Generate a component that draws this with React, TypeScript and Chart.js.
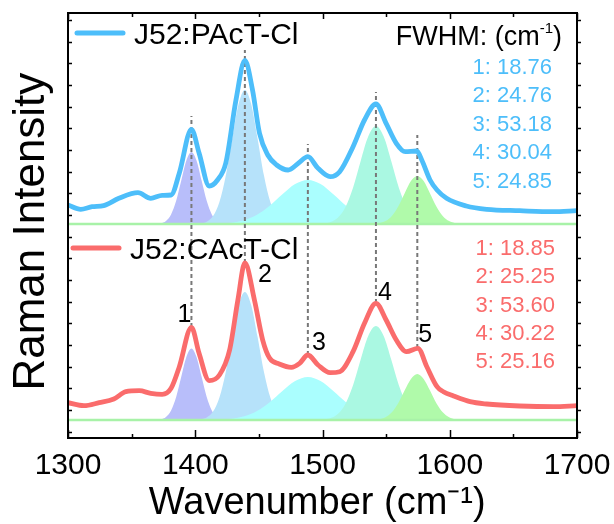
import React, { useEffect, useRef } from 'react';
import { Chart, registerables } from 'chart.js';

Chart.register(...registerables);

const FONT = '"Liberation Sans", Arial, Helvetica, sans-serif';
const BLUE = 'rgb(77,190,250)';
const RED = 'rgb(250,108,108)';
const BASE_GREEN = 'rgb(168,242,168)';
const FIT_COLORS = ['rgb(184,190,250)', 'rgb(182,226,250)', 'rgb(170,254,254)', 'rgb(170,248,226)', 'rgb(176,250,170)'];

// axis
const xMin = 1300;
const xMax = 1700;
const xStep = 100;
const yMin = 0;
const yMax = 425;

// series labels
const upperLabel = 'J52:PAcT-Cl';
const lowerLabel = 'J52:CAcT-Cl';

// stacking offsets of the two spectra (intensity units)
const upperOffset = 214;
const lowerOffset = 18;

// measured spectra (relative to own baseline)
const upperWavenumber = [1300, 1310, 1319, 1328, 1340, 1355, 1365, 1374, 1381, 1387.5, 1397, 1403, 1411, 1417.5, 1424, 1432, 1439, 1445, 1450.5, 1457, 1464, 1473, 1481, 1488.5, 1496.5, 1506, 1513.5, 1524, 1533, 1542, 1550, 1558, 1565, 1574, 1578, 1584.5, 1590, 1597.5, 1613, 1629, 1655, 1681, 1700];
const upperIntensity = [19, 14.7, 17.3, 18.3, 25.7, 31.3, 25.7, 28.7, 29, 51, 94.7, 71, 38, 44, 61, 124, 163.5, 134, 90.7, 69, 59, 54, 60.7, 67.3, 55.7, 47.3, 52.3, 77.3, 104, 120, 100.7, 80.7, 72.3, 73, 64, 44, 34, 25.7, 18, 14.7, 13.3, 12.3, 13.3];

const lowerWavenumber = [1300, 1312.5, 1324.5, 1336, 1345.5, 1356, 1365, 1374, 1381, 1387.5, 1397, 1403, 1411, 1419, 1427, 1433.5, 1439, 1446.5, 1453, 1458.5, 1466, 1475.5, 1482, 1488.5, 1496.5, 1506, 1513.5, 1524, 1533, 1542, 1550, 1558, 1566, 1575, 1582, 1590, 1595, 1603, 1616, 1629, 1655, 1681.5, 1700];
const lowerIntensity = [17.3, 14.3, 17.3, 21, 28.3, 29.3, 26.7, 25.7, 31.7, 53.3, 92.7, 66.7, 39.3, 45, 70, 120, 157, 120, 80, 61.7, 56, 52.7, 56.7, 65, 55, 47.3, 48.3, 68.3, 96.7, 116.7, 100, 80, 68.3, 71.7, 53.3, 33.3, 28.3, 24, 18.3, 16, 14, 13.3, 14.3];

// fitted peaks
const fit1X = [1369, 1373, 1377, 1381, 1385, 1389, 1393, 1397, 1401, 1405, 1409, 1413, 1417, 1421, 1425];
const upperFit1 = [0.2, 0.8, 3.1, 9.6, 23.2, 43.5, 63.5, 72, 63.5, 43.5, 23.2, 9.6, 3.1, 0.8, 0.2];
const lowerFit1 = [0.1, 0.8, 3.1, 9.5, 23.0, 43.2, 63.0, 71.5, 63.0, 43.2, 23.0, 9.5, 3.1, 0.8, 0.1];

const fit2X = [1404, 1409, 1414, 1419, 1424, 1429, 1434, 1439, 1444, 1449, 1454, 1459, 1464, 1469, 1474];
const upperFit2 = [0.5, 2.3, 7.9, 21.9, 48.4, 85.3, 119.7, 134, 119.7, 85.3, 48.4, 21.9, 7.9, 2.3, 0.5];
const lowerFit2 = [0.6, 2.6, 8.4, 22.5, 48.1, 82.9, 114.8, 128, 114.8, 82.9, 48.1, 22.5, 8.4, 2.6, 0.6];

const fit3X = [1408.5, 1418.5, 1428.5, 1438.5, 1448.5, 1458.5, 1468.5, 1478.5, 1488.5, 1498.5, 1508.5, 1518.5, 1528.5, 1538.5, 1548.5, 1558.5, 1568.5];
const upperFit3 = [0.1, 0.4, 1.3, 3.8, 9.2, 18.2, 29.7, 39.9, 44, 39.9, 29.7, 18.2, 9.2, 3.8, 1.3, 0.4, 0.1];
const lowerFit3 = [0.1, 0.4, 1.3, 3.7, 9.0, 17.8, 29.1, 39.0, 43, 39.0, 29.1, 17.8, 9.0, 3.7, 1.3, 0.4, 0.1];

const fit4X = [1500, 1506, 1512, 1518, 1524, 1530, 1536, 1542, 1548, 1554, 1560, 1566, 1572, 1578, 1584];
const upperFit4 = [0.4, 1.8, 6.2, 16.7, 36.2, 63.0, 87.7, 98, 87.7, 63.0, 36.2, 16.7, 6.2, 1.8, 0.4];
const lowerFit4 = [0.4, 1.7, 5.9, 16.0, 34.7, 60.4, 84.2, 94, 84.2, 60.4, 34.7, 16.0, 5.9, 1.7, 0.4];

const fit5X = [1539.5, 1544.5, 1549.5, 1554.5, 1559.5, 1564.5, 1569.5, 1574.5, 1579.5, 1584.5, 1589.5, 1594.5, 1599.5, 1604.5, 1609.5];
const upperFit5 = [0.2, 0.8, 2.9, 8.0, 17.5, 30.6, 42.9, 48, 42.9, 30.6, 17.5, 8.0, 2.9, 0.8, 0.2];
const lowerFit5 = [0.2, 0.8, 2.8, 7.7, 16.8, 29.4, 41.1, 46, 41.1, 29.4, 16.8, 7.7, 2.8, 0.8, 0.2];

// peak markers
const peakCenters = [1397, 1439, 1488.5, 1542, 1574.5];
const peakNames = ['1', '2', '3', '4', '5'];
const markerTopUpper = [108, 174, 80, 132, 89];
const lowerPeakTops = [93, 157, 65, 117, 72];

// FWHM annotations
const fwhmTitle = 'FWHM: (cm';
const fwhmUpper = ['18.76', '24.76', '53.18', '30.04', '24.85'];
const fwhmLower = ['18.85', '25.25', '53.60', '30.22', '25.16'];

// styles for peak number labels (px offsets)
const peakLabelOffsets = [[-7, -5], [20, 19], [11, -5], [9, -3], [8, -6]];

const pts = (xs: number[], ys: number[], off: number) => xs.map((x, i) => ({ x, y: ys[i] + off }));

const decorPlugin = {
  id: 'decor',
  afterDatasetsDraw(chart: any) {
    const { ctx, chartArea: a, scales } = chart;
    const x = scales.x;
    const y = scales.y;
    ctx.save();
    // frame
    ctx.strokeStyle = '#000';
    ctx.lineWidth = 2;
    ctx.strokeRect(a.left, a.top, a.right - a.left, a.bottom - a.top);
    ctx.lineWidth = 1.5;
    ctx.beginPath();
    for (let v = xMin; v <= xMax; v += xStep / 2) {
      const px = Math.round(x.getPixelForValue(v)) + 0.5;
      const major = (v - xMin) % xStep === 0;
      ctx.moveTo(px, a.bottom);
      ctx.lineTo(px, a.bottom - (major ? 8 : 4));
      ctx.moveTo(px, a.top);
      ctx.lineTo(px, a.top + (major ? 6 : 4));
    }
    for (let v = 6.3; v < yMax; v += 21.67) {
      const py = Math.round(y.getPixelForValue(v)) + 0.5;
      ctx.moveTo(a.left, py);
      ctx.lineTo(a.left + 4, py);
      ctx.moveTo(a.right, py);
      ctx.lineTo(a.right + 4, py);
    }
    ctx.stroke();

    // legends
    const drawLegend = (label: string, color: string, lx: number, ly: number) => {
      ctx.strokeStyle = color;
      ctx.lineWidth = 5;
      ctx.lineCap = 'round';
      ctx.beginPath();
      ctx.moveTo(lx, ly);
      ctx.lineTo(lx + 46, ly);
      ctx.stroke();
      ctx.fillStyle = '#000';
      ctx.font = `30px ${FONT}`;
      ctx.textAlign = 'left';
      ctx.textBaseline = 'alphabetic';
      ctx.fillText(label, lx + 57, ly + 10.5);
    };
    drawLegend(chart.data.datasets[0].label, BLUE, a.left + 9, a.top + 20);
    drawLegend(chart.data.datasets[1].label, RED, a.left + 5, a.top + 235);

    // FWHM header
    ctx.fillStyle = '#000';
    ctx.textAlign = 'right';
    ctx.textBaseline = 'alphabetic';
    const hx = a.right - 15;
    const hy = a.top + 32;
    ctx.font = `27px ${FONT}`;
    ctx.fillText(')', hx, hy);
    let cx = hx - ctx.measureText(')').width;
    ctx.font = `15px ${FONT}`;
    ctx.fillText('-1', cx, hy - 12);
    cx -= ctx.measureText('-1').width;
    ctx.font = `27px ${FONT}`;
    ctx.fillText(fwhmTitle, cx, hy);

    // FWHM values
    ctx.font = `22px ${FONT}`;
    ctx.fillStyle = BLUE;
    fwhmUpper.forEach((v, i) => ctx.fillText(`${i + 1}: ${v}`, a.right - 25, a.top + 61 + i * 28.4));
    ctx.fillStyle = RED;
    fwhmLower.forEach((v, i) => ctx.fillText(`${i + 1}: ${v}`, a.right - 22, a.top + 242 + i * 28.3));

    // peak numbers
    ctx.fillStyle = '#000';
    ctx.font = `25px ${FONT}`;
    ctx.textAlign = 'center';
    peakCenters.forEach((c, i) => {
      const px = x.getPixelForValue(c);
      const py = y.getPixelForValue(lowerPeakTops[i] + lowerOffset);
      ctx.fillText(peakNames[i], px + peakLabelOffsets[i][0], py + peakLabelOffsets[i][1]);
    });
    ctx.restore();
  },
};

export default function App() {
  const ref = useRef<HTMLCanvasElement>(null);
  useEffect(() => {
    if (!ref.current) return;
    const fitXs = [fit1X, fit2X, fit3X, fit4X, fit5X];
    const upperFits = [upperFit1, upperFit2, upperFit3, upperFit4, upperFit5];
    const lowerFits = [lowerFit1, lowerFit2, lowerFit3, lowerFit4, lowerFit5];
    const datasets: any[] = [
      {
        label: upperLabel,
        data: pts(upperWavenumber, upperIntensity, upperOffset),
        borderColor: BLUE,
        borderWidth: 4.8,
        cubicInterpolationMode: 'monotone',
        pointRadius: 0,
        fill: false,
        order: 0,
      },
      {
        label: lowerLabel,
        data: pts(lowerWavenumber, lowerIntensity, lowerOffset),
        borderColor: RED,
        borderWidth: 4.8,
        cubicInterpolationMode: 'monotone',
        pointRadius: 0,
        fill: false,
        order: 0,
      },
    ];
    peakCenters.forEach((c, i) => {
      datasets.push({
        label: `marker${i + 1}`,
        data: [
          { x: c, y: lowerPeakTops[i] + lowerOffset },
          { x: c, y: markerTopUpper[i] + upperOffset },
        ],
        borderColor: 'rgb(120,120,120)',
        borderWidth: 2,
        borderDash: [4, 3],
        pointRadius: 0,
        fill: false,
        order: 1,
      });
    });
    [upperOffset, lowerOffset].forEach((off, k) => {
      datasets.push({
        label: `baseline${k}`,
        data: [
          { x: xMin, y: off },
          { x: xMax, y: off },
        ],
        borderColor: BASE_GREEN,
        borderWidth: 2.5,
        pointRadius: 0,
        fill: false,
        order: 2,
      });
    });
    [upperFits, lowerFits].forEach((fits, k) => {
      const off = k === 0 ? upperOffset : lowerOffset;
      fits.forEach((ys, i) => {
        datasets.push({
          label: `fit${k}-${i + 1}`,
          data: pts(fitXs[i], ys, off),
          borderWidth: 0,
          borderColor: 'rgba(0,0,0,0)',
          backgroundColor: FIT_COLORS[i],
          cubicInterpolationMode: 'monotone',
          pointRadius: 0,
          fill: { value: off },
          order: 7 - i,
        });
      });
    });

    const chart = new Chart(ref.current, {
      type: 'line',
      data: { datasets },
      options: {
        animation: false,
        responsive: false,
        devicePixelRatio: 1,
        events: [],
        layout: { padding: { left: 0, right: 37, top: 13, bottom: 10.2 } },
        plugins: { legend: { display: false }, tooltip: { enabled: false } },
        scales: {
          x: {
            type: 'linear',
            min: xMin,
            max: xMax,
            grid: { display: false, drawTicks: false },
            border: { display: false },
            ticks: {
              stepSize: xStep,
              padding: 0,
              color: '#000',
              font: { family: FONT, size: 30, lineHeight: 1.84 },
              callback: (v: any) => String(v),
            },
            title: {
              display: true,
              text: 'Wavenumber (cm⁻¹) ',
              color: '#000',
              font: { family: FONT, size: 38, lineHeight: 0.542 },
              padding: { top: 0, bottom: 0 },
            },
          },
          y: {
            type: 'linear',
            min: yMin,
            max: yMax,
            grid: { display: false, drawTicks: false },
            border: { display: false },
            ticks: { display: false },
            title: {
              display: true,
              text: 'Raman Intensity ',
              color: '#000',
              font: { family: FONT, size: 44, lineHeight: 1 },
              padding: { top: 9.5, bottom: 14.5 },
            },
          },
        },
      },
      plugins: [decorPlugin],
    } as any);
    return () => chart.destroy();
  }, []);
  return (
    <div style={{ position: 'fixed', left: 0, top: 0, width: 614, height: 524, background: '#fff' }}>
      <canvas ref={ref} width={614} height={524} style={{ display: 'block' }} />
    </div>
  );
}
